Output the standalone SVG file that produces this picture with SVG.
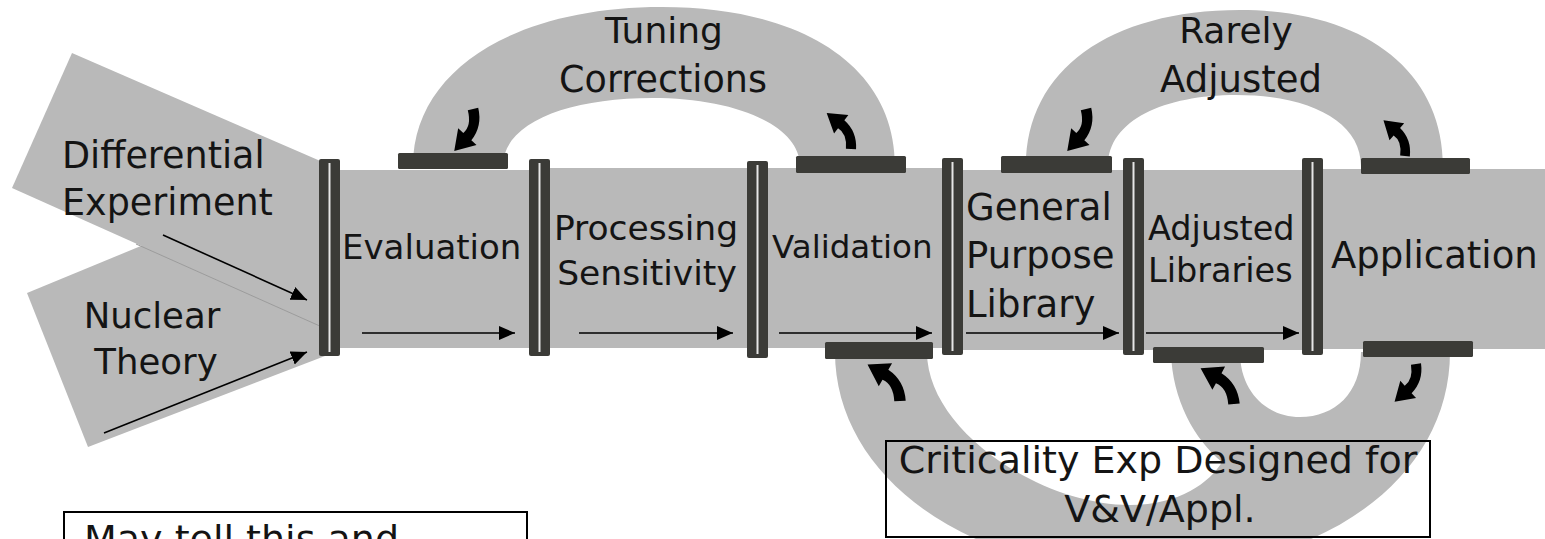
<svg xmlns="http://www.w3.org/2000/svg" width="1545" height="539" viewBox="0 0 1545 539">
  <style>
    .band { fill: #b9b9b9; }
    .seam { stroke: #9c9c9c; stroke-width: 1; fill: none; }
    .bar { fill: #3b3b37; }
    .gap { fill: #e6e6e6; }
    .lbl { font-family: "DejaVu Sans", "Liberation Sans", sans-serif; fill: #141414; }
    .flow { stroke: #000; stroke-width: 1.6; fill: none; marker-end: url(#head); }
    .fat { fill: #000; }
    .box { fill: none; stroke: #000; stroke-width: 2; }
  </style>
  <defs>
    <marker id="head" markerUnits="userSpaceOnUse" markerWidth="17" markerHeight="15" refX="16" refY="7" orient="auto">
      <path d="M0,0 L16,7 L0,14 Z" fill="#000"/>
    </marker>
    <!-- curved block arrow, tail at origin, pointing roughly along +x -->
    <path id="bend" d="M-2.5,-4.3 Q12.8,-12.9 28.2,-6.5 L31.1,-12.3 L42.1,6 L20.9,8.3 L23.8,2.5 Q15.3,-3.2 2.5,4.3 Z"/>
    <!-- the separator between two stages -->
    <g id="sep">
      <rect x="0" y="0" width="21" height="197" rx="2" class="bar"/>
      <rect x="9.5" y="4" width="2" height="189" class="gap"/>
    </g>
  </defs>

  <!-- inputs -->
  <g id="input-theory">
    <polygon class="band" points="27,293 325,170 325,356 88,447"/>
    <text class="lbl" font-size="35.5" text-anchor="middle" x="152" y="328">Nuclear</text>
    <text class="lbl" font-size="35.5" text-anchor="middle" x="156" y="374">Theory</text>
  </g>
  <g id="input-experiment">
    <polygon class="band" points="72,53 325,163 325,328 12,188"/>
    <line class="seam" x1="136" y1="244" x2="322" y2="327"/>
    <text class="lbl" font-size="36.5" x="62" y="168">Differential</text>
    <text class="lbl" font-size="36.5" x="62" y="215">Experiment</text>
  </g>

  <!-- feedback loops -->
  <g id="loop-tuning">
    <path class="band" fill-rule="evenodd" d="M413,166 C413,70 515,7 662,7 C800,7 895,65 895,166 Z M503,166 C503,122 570,98 652,98 C735,98 800,125 800,166 Z"/>
    <text class="lbl" font-size="36" text-anchor="middle" x="664" y="43">Tuning</text>
    <text class="lbl" font-size="36.5" text-anchor="middle" x="663" y="92">Corrections</text>
  </g>
  <g id="loop-rarely">
    <path class="band" fill-rule="evenodd" d="M1026,166 C1026,70 1110,10 1240,10 C1365,10 1443,72 1443,166 Z M1108,166 C1108,120 1165,95 1236,95 C1310,95 1361,122 1361,166 Z"/>
    <text class="lbl" font-size="36" text-anchor="middle" x="1236" y="43">Rarely</text>
    <text class="lbl" font-size="37" text-anchor="middle" x="1241" y="92">Adjusted</text>
  </g>
  <g id="loop-criticality">
    <path class="band" fill-rule="evenodd" d="M835,352 C835,475 965,572 1141,572 C1320,572 1450,480 1450,352 Z M927,352 C927,430 1040,505 1130,505 C1180,505 1210,482 1222,462 C1195,440 1172,400 1171,352 Z M1240,352 C1240,393 1268,417 1300,417 C1335,417 1361,393 1361,352 Z"/>
  </g>

  <!-- stages along the main band -->
  <g id="stage-evaluation">
    <rect class="band" x="330" y="170" width="210" height="178"/>
    <text class="lbl" font-size="34" x="342" y="259">Evaluation</text>
  </g>
  <g id="stage-processing">
    <rect class="band" x="540" y="168" width="215" height="180"/>
    <text class="lbl" font-size="34.5" text-anchor="middle" x="646" y="240">Processing</text>
    <text class="lbl" font-size="34.5" text-anchor="middle" x="647" y="285">Sensitivity</text>
  </g>
  <g id="stage-validation">
    <rect class="band" x="755" y="168" width="197" height="180"/>
    <text class="lbl" font-size="32.5" x="772" y="258">Validation</text>
  </g>
  <g id="stage-general">
    <rect class="band" x="952" y="170" width="180" height="180"/>
    <text class="lbl" font-size="37" x="966" y="220">General</text>
    <text class="lbl" font-size="37" x="966" y="268">Purpose</text>
    <text class="lbl" font-size="37" x="966" y="317">Library</text>
  </g>
  <g id="stage-adjusted">
    <rect class="band" x="1132" y="170" width="180" height="180"/>
    <text class="lbl" font-size="33.5" x="1148" y="240">Adjusted</text>
    <text class="lbl" font-size="33.5" x="1148" y="282">Libraries</text>
  </g>
  <g id="stage-application">
    <rect class="band" x="1312" y="169" width="233" height="180"/>
    <text class="lbl" font-size="37" x="1331" y="268">Application</text>
  </g>

  <!-- separators and loop ports -->
  <g id="separators">
    <use href="#sep" x="319" y="159"/>
    <use href="#sep" x="529" y="159"/>
    <use href="#sep" x="747" y="161"/>
    <use href="#sep" x="942" y="158"/>
    <use href="#sep" x="1123" y="158"/>
    <use href="#sep" x="1302" y="158"/>
  </g>
  <g id="ports">
    <rect class="bar" x="398" y="153" width="110" height="16" rx="1.5"/>
    <rect class="bar" x="796" y="156" width="110" height="17" rx="1.5"/>
    <rect class="bar" x="1001" y="156" width="111" height="17" rx="1.5"/>
    <rect class="bar" x="1361" y="158" width="109" height="16" rx="1.5"/>
    <rect class="bar" x="825" y="342" width="108" height="17" rx="1.5"/>
    <rect class="bar" x="1153" y="347" width="111" height="16" rx="1.5"/>
    <rect class="bar" x="1363" y="341" width="110" height="16" rx="1.5"/>
  </g>

  <g id="connectors">
    <line class="flow" x1="163" y1="235" x2="307" y2="300"/>
    <line class="flow" x1="104" y1="433" x2="307" y2="352"/>
    <line class="flow" x1="362" y1="333" x2="515" y2="333"/>
    <line class="flow" x1="579" y1="333" x2="733" y2="333"/>
    <line class="flow" x1="779" y1="333" x2="932" y2="333"/>
    <line class="flow" x1="966" y1="333" x2="1119" y2="333"/>
    <line class="flow" x1="1146" y1="333" x2="1299" y2="333"/>
    <!-- loop direction arrows -->
    <use href="#bend" class="fat" transform="translate(473,109) rotate(106) scale(1.08)"/>
    <use href="#bend" class="fat" transform="translate(851,149) rotate(-116) scale(1.02,-1.02)"/>
    <use href="#bend" class="fat" transform="translate(1086,109) rotate(106) scale(1.08)"/>
    <use href="#bend" class="fat" transform="translate(1405,156) rotate(-113) scale(0.98,-0.98)"/>
    <use href="#bend" class="fat" transform="translate(900,401) rotate(-123.5) scale(1.15,-1.15)"/>
    <use href="#bend" class="fat" transform="translate(1234,404) rotate(-125) scale(1.15,-1.15)"/>
    <use href="#bend" class="fat" transform="translate(1416,364) rotate(111.5) scale(1.02)"/>
  </g>

  <g id="note-criticality">
    <rect class="box" x="886" y="441" width="544" height="96"/>
    <text class="lbl" font-size="38" text-anchor="middle" x="1158" y="473">Criticality Exp Designed for</text>
    <text class="lbl" font-size="38" text-anchor="middle" x="1160" y="522">V&amp;V/Appl.</text>
  </g>
  <g id="note-bottom">
    <rect class="box" x="64" y="512" width="463" height="60"/>
    <text class="lbl" font-size="38" x="84" y="552">May tell this and</text>
  </g>
</svg>
